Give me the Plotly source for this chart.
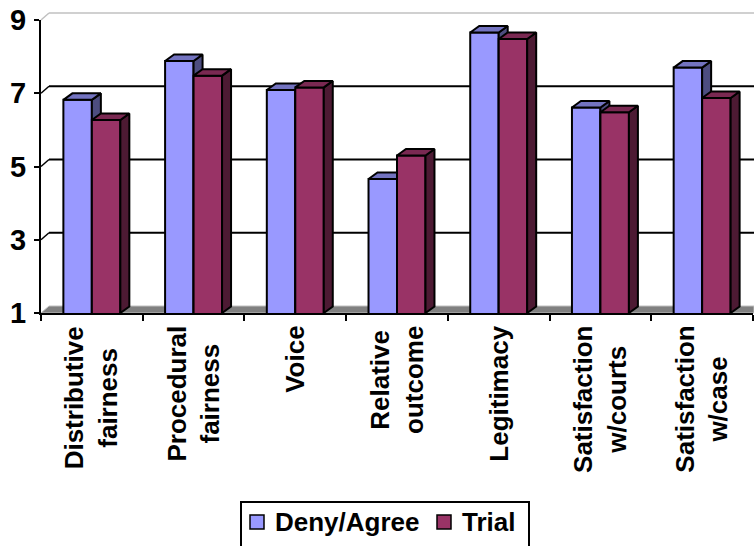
import plotly.graph_objects as go

# ---------------- data ----------------
categories = ["Distributive<br>fairness", "Procedural<br>fairness", "Voice",
              "Relative<br>outcome", "Legitimacy", "Satisfaction<br>w/courts",
              "Satisfaction<br>w/case"]
series_names = ["Deny/Agree", "Trial"]
deny_values = [6.82, 7.88, 7.09, 4.66, 8.66, 6.61, 7.70]
trial_values = [6.27, 7.48, 7.16, 5.30, 8.48, 6.48, 6.87]
y_ticks = [1, 3, 5, 7, 9]

# ---------------- layout constants ----------------
W, H = 754, 546
ML, MR, MT, MB = 41, 1, 20, 233
PW, PH = W - ML - MR, H - MT - MB
Y0, Y1 = 1, 9
X0, X1 = -0.5, len(categories) - 0.5
XU = PW / (X1 - X0)          # px per x unit
YU = PH / (Y1 - Y0)          # px per y unit
BAR_W = 0.28
DX, DY = 9 / XU, 6.5 / YU    # bar depth (data units)
WDX, WDY = 8 / PW, 7 / PH    # wall depth (paper units)
FONT = "Liberation Sans, Arial, sans-serif"

front = {"Deny/Agree": "#9999FF", "Trial": "#993366"}
topc = {"Deny/Agree": "#7373C0", "Trial": "#7A2952"}
sidec = {"Deny/Agree": "#4D4D80", "Trial": "#4D1A33"}


def vp(v):
    return (v - Y0) / (Y1 - Y0)


def px_x(px):
    return (px - ML) / PW


def px_y(py):
    return (MT + PH - py) / PH


fig = go.Figure()

series = [(series_names[0], deny_values, -BAR_W, "x", "y"),
          (series_names[1], trial_values, 0.0, "x2", "y2")]

for name, vals, off, xa, ya in series:
    xs = list(range(len(categories)))
    fig.add_trace(go.Bar(
        x=xs, y=vals, name=name, offset=off, width=BAR_W,
        marker=dict(color=front[name], line=dict(color="black", width=2)),
        xaxis=xa, yaxis=ya, showlegend=False,
        hovertemplate=name + ": %{y}<extra></extra>"))
    tx, ty, sx, sy = [], [], [], []
    for i, v in enumerate(vals):
        xl = i + off
        xr = xl + BAR_W
        tx += [xl, xr, xr + DX, xl + DX, xl, None]
        ty += [v, v, v + DY, v + DY, v, None]
        sx += [xr, xr + DX, xr + DX, xr, xr, None]
        sy += [v, v + DY, Y0 + DY, Y0, v, None]
    fig.add_trace(go.Scatter(x=sx, y=sy, mode="lines", fill="toself",
                             fillcolor=sidec[name],
                             line=dict(color="black", width=2),
                             xaxis=xa, yaxis=ya, showlegend=False,
                             hoverinfo="skip"))
    fig.add_trace(go.Scatter(x=tx, y=ty, mode="lines", fill="toself",
                             fillcolor=topc[name],
                             line=dict(color="black", width=2),
                             xaxis=xa, yaxis=ya, showlegend=False,
                             hoverinfo="skip"))

shapes = []
# floor
shapes.append(dict(type="path", xref="paper", yref="paper", layer="below",
                   path=f"M 0,0 L {WDX},{WDY} L {1 + 1 / PW},{WDY} L {1 + 1 / PW},0 Z",
                   fillcolor="#808080", line=dict(color="#C0C0C0", width=1)))
# back wall gridlines
for v in y_ticks[1:]:
    col = "#C0C0C0" if v == Y1 else "black"
    wdt = 1.5 if v == Y1 else 2
    shapes.append(dict(type="line", xref="paper", yref="paper", layer="below",
                       x0=WDX, x1=1 + 1 / PW, y0=vp(v) + WDY, y1=vp(v) + WDY,
                       line=dict(color=col, width=wdt)))
    shapes.append(dict(type="line", xref="paper", yref="paper", layer="below",
                       x0=0, x1=WDX, y0=vp(v), y1=vp(v) + WDY,
                       line=dict(color=col if v == Y1 else "black", width=1.5)))

# custom legend
shapes.append(dict(type="rect", xref="paper", yref="paper", layer="above",
                   x0=px_x(241), x1=px_x(529), y0=px_y(502), y1=px_y(556),
                   fillcolor="white", line=dict(color="black", width=2)))
annotations = []
leg_items = [(series_names[0], 250, 273), (series_names[1], 437, 460)]
for name, sqx, tx0 in leg_items:
    shapes.append(dict(type="rect", xref="paper", yref="paper", layer="above",
                       x0=px_x(sqx), x1=px_x(sqx + 14), y0=px_y(515), y1=px_y(529),
                       fillcolor=front[name], line=dict(color="black", width=1.5)))
    annotations.append(dict(xref="paper", yref="paper", x=px_x(tx0), y=px_y(522),
                            xanchor="left", yanchor="middle", showarrow=False,
                            text=name,
                            font=dict(family=FONT, size=26, color="black", weight="bold")))

# category labels
for i, c in enumerate(categories):
    annotations.append(dict(xref="x", yref="paper", x=i, y=px_y(324),
                            xanchor="center", yanchor="top", showarrow=False,
                            textangle=-90, align="center", text=c,
                            font=dict(family=FONT, size=26, color="black", weight="bold")))

fig.update_layout(
    width=W, height=H,
    margin=dict(l=ML, r=MR, t=MT, b=MB, pad=0),
    paper_bgcolor="white", plot_bgcolor="rgba(0,0,0,0)",
    showlegend=False,
    shapes=shapes, annotations=annotations,
    xaxis=dict(range=[X0, X1], showgrid=False, zeroline=False,
               showline=True, linecolor="black", linewidth=2,
               tickmode="array", tickvals=[k - 0.5 for k in range(len(categories) + 1)],
               ticks="outside", ticklen=6, tickwidth=2, tickcolor="black",
               showticklabels=False, fixedrange=True),
    yaxis=dict(range=[Y0, Y1], showgrid=False, zeroline=False,
               showline=True, linecolor="black", linewidth=2,
               tickmode="array", tickvals=y_ticks,
               ticks="outside", ticklen=5, tickwidth=2, tickcolor="black",
               ticklabelstandoff=2,
               tickfont=dict(family=FONT, size=29, color="black", weight="bold"),
               fixedrange=True),
    xaxis2=dict(range=[X0, X1], overlaying="x", visible=False, fixedrange=True),
    yaxis2=dict(range=[Y0, Y1], overlaying="y", visible=False, fixedrange=True),
)

fig.write_html("out.html")
